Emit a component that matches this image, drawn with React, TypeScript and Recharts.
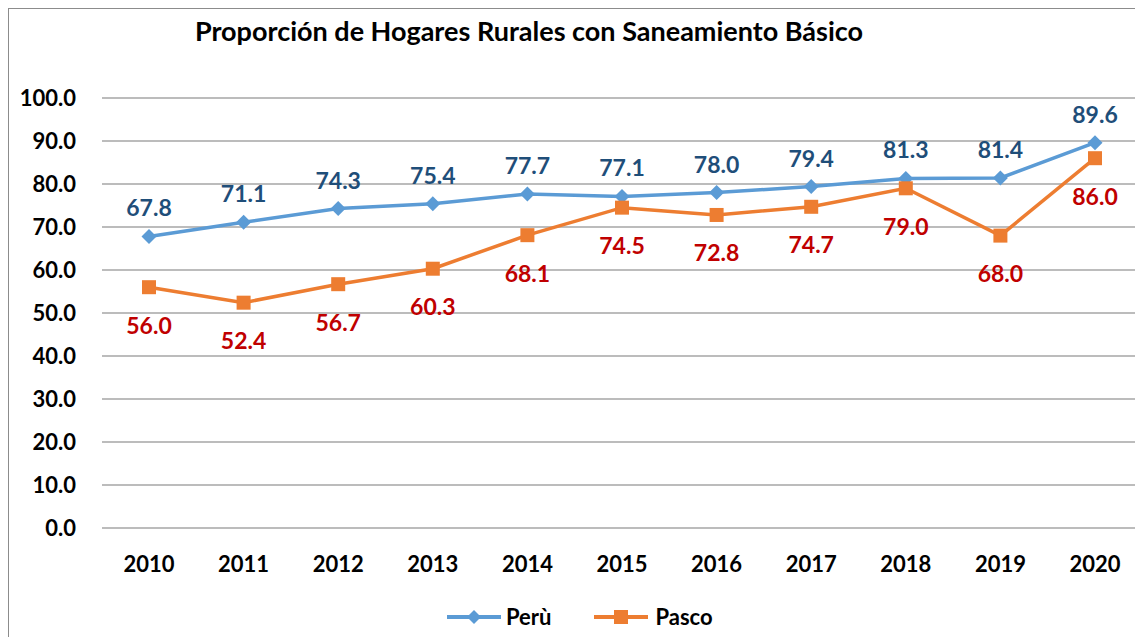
import React from "react";
import { LineChart, Line, XAxis, YAxis, CartesianGrid, Legend, LabelList } from "recharts";

const years = ["2010", "2011", "2012", "2013", "2014", "2015", "2016", "2017", "2018", "2019", "2020"];
const peru = [67.8, 71.1, 74.3, 75.4, 77.7, 77.1, 78.0, 79.4, 81.3, 81.4, 89.6];
const pasco = [56.0, 52.4, 56.7, 60.3, 68.1, 74.5, 72.8, 74.7, 79.0, 68.0, 86.0];
const yTicks = [0, 10, 20, 30, 40, 50, 60, 70, 80, 90, 100];

const data = years.map((year, i) => ({ year, peru: peru[i], pasco: pasco[i] }));

const FONT = "Lato, 'Open Sans', sans-serif";
const BLUE = "#5B9BD5";
const ORANGE = "#ED7D31";

const Diamond = (props: any) => {
  const { cx, cy } = props;
  if (cx == null || cy == null) return null;
  const r = 7.5;
  return <path d={`M${cx},${cy - r}L${cx + r},${cy}L${cx},${cy + r}L${cx - r},${cy}Z`} fill={BLUE} />;
};

const Square = (props: any) => {
  const { cx, cy } = props;
  if (cx == null || cy == null) return null;
  const s = 7;
  return <rect x={cx - s} y={cy - s} width={s * 2} height={s * 2} fill={ORANGE} />;
};

const LegendContent = () => (
  <div style={{ display: "flex", alignItems: "center", fontFamily: FONT, fontWeight: 700, fontSize: 22, color: "#000" }}>
    <svg width={54} height={20}>
      <line x1={0} y1={10} x2={54} y2={10} stroke={BLUE} strokeWidth={4} />
      <path d="M27,3L34,10L27,17L20,10Z" fill={BLUE} />
    </svg>
    <span style={{ marginLeft: 5, marginRight: 43 }}>Perù</span>
    <svg width={54} height={20}>
      <line x1={0} y1={10} x2={54} y2={10} stroke={ORANGE} strokeWidth={4} />
      <rect x={20} y={3} width={14} height={14} fill={ORANGE} />
    </svg>
    <span style={{ marginLeft: 7 }}>Pasco</span>
  </div>
);

export default function App() {
  const tickStyle = { fontFamily: FONT, fontWeight: 700, fontSize: 22, fill: "#000" };
  return (
    <div style={{ position: "fixed", left: 0, top: 0, width: 1135, height: 637, overflow: "hidden", background: "#fff" }}>
      <div style={{ position: "absolute", left: 8, top: 8, width: 1150, height: 650, border: "1.5px solid #8c8c8c" }} />
      <div
        style={{
          position: "absolute",
          left: 0,
          top: 14,
          width: 1058,
          textAlign: "center",
          fontFamily: FONT,
          fontWeight: 700,
          fontSize: 27,
          color: "#000",
        }}
      >
        Proporción de Hogares Rurales con Saneamiento Básico
      </div>
      <div style={{ position: "absolute", left: 0, top: 0 }}>
        <LineChart width={1150} height={637} data={data} margin={{ top: 98, right: 8, bottom: 21, left: 0 }}>
          <CartesianGrid vertical={false} stroke="#a6a6a6" strokeWidth={1.5} />
          <XAxis
            dataKey="year"
            axisLine={false}
            tickLine={false}
            tickSize={0}
            tickMargin={28}
            height={60}
            padding={{ left: 47, right: 47 }}
            tick={tickStyle}
            interval={0}
          />
          <YAxis
            domain={[0, 100]}
            ticks={yTicks}
            axisLine={false}
            tickLine={false}
            tickSize={0}
            tickMargin={26}
            width={102}
            tick={tickStyle}
            tickFormatter={(v: number) => v.toFixed(1)}
          />
          <Legend
            verticalAlign="bottom"
            content={<LegendContent />}
            wrapperStyle={{ left: 447, top: 603, width: 320, height: 28 }}
          />
          <Line
            dataKey="peru"
            name="Perù"
            stroke={BLUE}
            strokeWidth={3.5}
            dot={<Diamond />}
            activeDot={false}
            isAnimationActive={false}
          >
            <LabelList
              dataKey="peru"
              position="top"
              offset={20}
              formatter={(v: any) => Number(v).toFixed(1)}
              style={{ fontFamily: FONT, fontWeight: 700, fontSize: 23, fill: "#1F4E79" }}
            />
          </Line>
          <Line
            dataKey="pasco"
            name="Pasco"
            stroke={ORANGE}
            strokeWidth={3.5}
            dot={<Square />}
            activeDot={false}
            isAnimationActive={false}
          >
            <LabelList
              dataKey="pasco"
              position="bottom"
              offset={30}
              formatter={(v: any) => Number(v).toFixed(1)}
              style={{ fontFamily: FONT, fontWeight: 700, fontSize: 23, fill: "#C00000" }}
            />
          </Line>
        </LineChart>
      </div>
    </div>
  );
}
